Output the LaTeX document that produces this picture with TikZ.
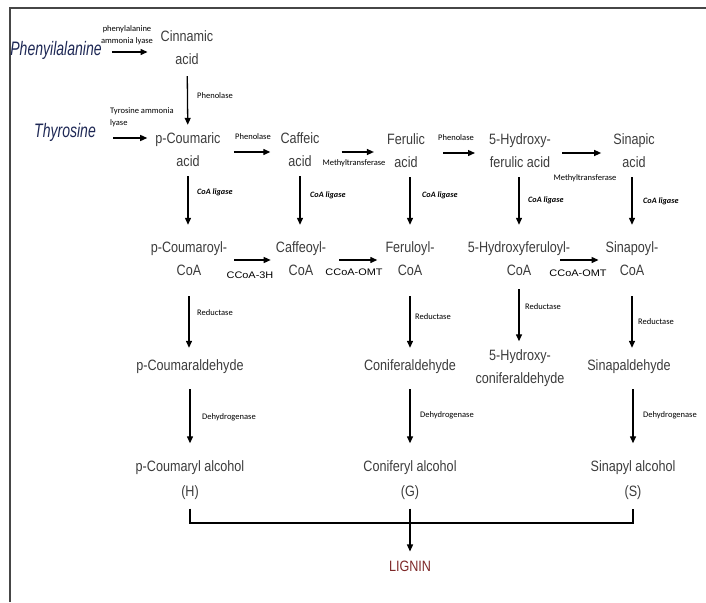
\documentclass[tikz,border=0pt]{standalone}
\usepackage{fontspec}
\setmainfont[FakeStretch=0.84]{Liberation Sans}
\newfontfamily\labfont{Carlito}
\newfontfamily\narrowfont[FakeStretch=0.72]{Liberation Sans}
\newfontfamily\widefont[FakeStretch=1.15]{Liberation Sans}
\usetikzlibrary{arrows.meta}
\definecolor{txt}{RGB}{60,60,60}
\definecolor{navy}{RGB}{30,40,85}
\definecolor{lignincol}{RGB}{125,40,40}
\definecolor{framecol}{RGB}{70,70,70}
\begin{document}
\begin{tikzpicture}[x=1pt,y=-1pt,
  cmpd/.style={font=\fontsize{15}{23}\selectfont, text=txt, align=center, inner sep=0pt},
  src/.style={font=\narrowfont\itshape\fontsize{19.5}{22}\selectfont, text=navy, inner sep=0pt},
  lab/.style={font=\labfont\fontsize{8.5}{12}\selectfont, inner sep=0pt},
  coa/.style={font=\labfont\bfseries\itshape\fontsize{8.2}{10}\selectfont, inner sep=0pt, anchor=west},
  enz/.style={font=\widefont\fontsize{9.5}{11}\selectfont, inner sep=0pt},
  arr/.style={line width=1.3pt, -{Triangle[length=7pt,width=6pt]}},
  conn/.style={line width=1.3pt}
]
\useasboundingbox (0,0) rectangle (706,602);
% frame
\draw[framecol, line width=2pt] (10,602) -- (10,8) -- (706,8);

% sources
\node[src] (phe) at (56,50) {Phenyilalanine};
\node[src] (thy) at (65,132) {Thyrosine};

% compounds
\node[cmpd] (cin) at (187,48) {Cinnamic\\acid};
\node[cmpd] (pca) at (188,150) {p-Coumaric\\acid};
\node[cmpd] (caf) at (300,150) {Caffeic\\acid};
\node[cmpd] (fer) at (406,151) {Ferulic\\acid};
\node[cmpd] (hfa) at (520,151) {5-Hydroxy-\\ferulic acid};
\node[cmpd] (sia) at (634,151) {Sinapic\\acid};

\node[cmpd] (pcc) at (189,259) {p-Coumaroyl-\\CoA};
\node[cmpd] (cac) at (301,259) {Caffeoyl-\\CoA};
\node[cmpd] (fec) at (410,259) {Feruloyl-\\CoA};
\node[cmpd] (hfc) at (519,259) {5-Hydroxyferuloyl-\\CoA};
\node[cmpd] (sic) at (632,259) {Sinapoyl-\\CoA};

\node[cmpd] (pcald) at (190,367) {p-Coumaraldehyde};
\node[cmpd] (coald) at (410,367) {Coniferaldehyde};
\node[cmpd] (hcald) at (520,368) {5-Hydroxy-\\coniferaldehyde};
\node[cmpd] (sald) at (629,367) {Sinapaldehyde};

\node[cmpd, font=\fontsize{15}{25}\selectfont] (pcalc) at (190,480) {p-Coumaryl alcohol\\(H)};
\node[cmpd, font=\fontsize{15}{25}\selectfont] (coalc) at (410,480) {Coniferyl alcohol\\(G)};
\node[cmpd, font=\fontsize{15}{25}\selectfont] (salc) at (633,480) {Sinapyl alcohol\\(S)};

\node[cmpd, text=lignincol] (lig) at (410,566) {LIGNIN};

% top row arrows
\draw[arr, shorten <=10pt, shorten >=13pt] ([yshift=-2pt]phe.east) -- ([yshift=-2pt]phe.east -| cin.west);
\draw[arr, shorten <=17pt, shorten >=8pt] ([yshift=-6pt]thy.east) -- ([yshift=-6pt]thy.east -| pca.west);
\draw[arr, shorten <=11pt, shorten >=8pt] (cin) -- (pca);

% acid row horizontal
\draw[arr, shorten <=13pt, shorten >=10pt] ([yshift=-2pt]pca.east) -- ([yshift=-2pt]pca.east -| caf.west);
\draw[arr, shorten <=22pt, shorten >=13pt] ([yshift=-2pt]caf.east) -- ([yshift=-2pt]caf.east -| fer.west);
\draw[arr, shorten <=18pt, shorten >=14pt] ([yshift=-2pt]fer.east) -- ([yshift=-2pt]fer.east -| hfa.west);
\draw[arr, shorten <=11pt, shorten >=12pt] ([yshift=-2pt]hfa.east) -- ([yshift=-2pt]hfa.east -| sia.west);

% CoA ligase
\draw[arr, shorten <=9pt, shorten >=17pt] (pca) -- (pca |- pcc.north);
\draw[arr, shorten <=9pt, shorten >=17pt] (caf) -- (caf |- cac.north);
\draw[arr, shorten <=9pt, shorten >=17pt] (fer.south -| fec) -- (fec.north);
\draw[arr, shorten <=9pt, shorten >=17pt] (hfa.south -| hfc) -- (hfc.north);
\draw[arr, shorten <=9pt, shorten >=17pt] (sia.south -| sic) -- (sic.north);

% CoA row horizontal
\draw[arr, shorten <=7pt, shorten >=5pt] ([yshift=-1pt]pcc.east) -- ([yshift=-1pt]pcc.east -| cac.west);
\draw[arr, shorten <=13pt, shorten >=8pt] ([yshift=-1pt]cac.east) -- ([yshift=-1pt]cac.east -| fec.west);
\draw[arr, shorten <=-10pt, shorten >=7pt] ([yshift=-1pt]hfc.east) -- ([yshift=-1pt]hfc.east -| sic.west);

% Reductase
\draw[arr, shorten <=20pt, shorten >=12pt] (pcc) -- (pcc |- pcald.north);
\draw[arr, shorten <=20pt, shorten >=12pt] (fec) -- (fec |- coald.north);
\draw[arr, shorten <=13pt, shorten >=8pt] (hfc) -- (hfc |- hcald.north);
\draw[arr, shorten <=20pt, shorten >=12pt] (sic) -- (sic |- sald.north);

% Dehydrogenase
\draw[arr, shorten <=15pt, shorten >=17pt] (pcald) -- (pcald |- pcalc.north);
\draw[arr, shorten <=15pt, shorten >=17pt] (coald) -- (coald |- coalc.north);
\draw[arr, shorten <=15pt, shorten >=17pt] (sald.south -| salc) -- (salc.north);

% bracket to lignin
\coordinate (bl) at (pcalc.south |- 0,523);
\coordinate (br) at (salc.south |- 0,523);
\draw[conn] ([yshift=-9pt]pcalc.south) -- (bl) -- (br) -- ([yshift=-9pt]salc.south);
\draw[arr, shorten <=9pt, shorten >=9pt] (coalc.south) -- (lig.north);

% labels
\node[lab, align=center] (l1) at (127,35) {phenylalanine\\ammonia lyase};
\node[lab, anchor=west] (l2) at (197,96) {Phenolase};
\node[lab, align=left, anchor=west] (l3) at (110,117) {Tyrosine ammonia\\lyase};
\node[lab] (l4) at (253,137) {Phenolase};
\node[lab] (l5) at (354,163) {Methyltransferase};
\node[lab] (l6) at (456,138) {Phenolase};
\node[lab] (l7) at (585,178) {Methyltransferase};

\node[coa] (c1) at (197,192) {CoA ligase};
\node[coa] (c2) at (310,195) {CoA ligase};
\node[coa] (c3) at (422,195) {CoA ligase};
\node[coa] (c4) at (528,200) {CoA ligase};
\node[coa] (c5) at (643,201) {CoA ligase};

\node[enz] (e1) at (250,275) {CCoA-3H};
\node[enz] (e2) at (354,272) {CCoA-OMT};
\node[enz] (e3) at (578,273) {CCoA-OMT};

\node[lab, anchor=west] (r1) at (197,313) {Reductase};
\node[lab, anchor=west] (r2) at (415,317) {Reductase};
\node[lab, anchor=west] (r3) at (525,307) {Reductase};
\node[lab, anchor=west] (r4) at (638,322) {Reductase};

\node[lab, anchor=west] (d1) at (202,417) {Dehydrogenase};
\node[lab, anchor=west] (d2) at (420,415) {Dehydrogenase};
\node[lab, anchor=west] (d3) at (643,415) {Dehydrogenase};
\end{tikzpicture}
\end{document}
